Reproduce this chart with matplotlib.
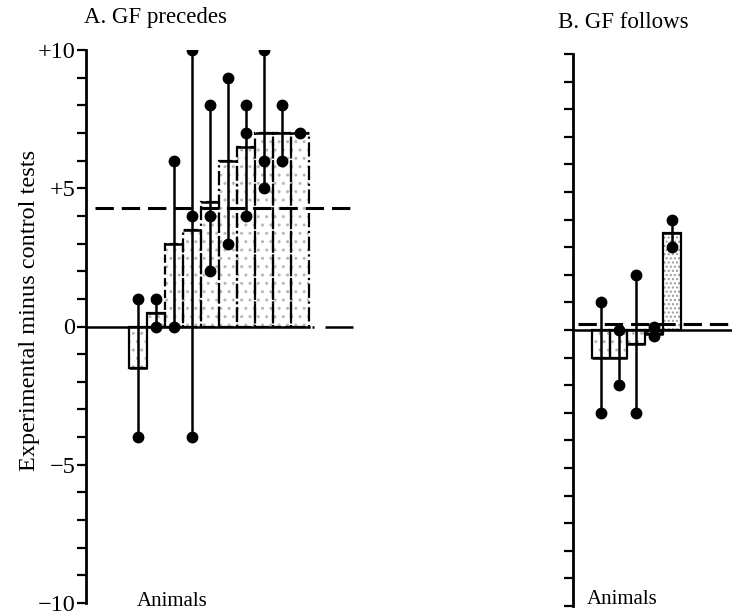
import matplotlib
matplotlib.use("Agg")
import matplotlib.pyplot as plt
import numpy as np

# ---- data ----
A_means = [-1.5, 0.5, 3.0, 3.5, 4.5, 6.0, 6.5, 7.0, 7.0, 7.0]
A_points = [[1, -4], [1, 0], [6, 0], [10, 4, -4], [8, 4, 2],
            [9, 3], [8, 7, 4], [10, 6, 5], [8, 6], [7]]
A_grand_mean = 4.3

B_means = [-1.0, -1.0, -0.5, -0.15, 3.5]
B_points = [[1, -3], [0, -2], [2, -3], [0.1, -0.2], [4, 3]]
B_grand_mean = 0.2

y_ticks = list(range(-10, 11))
y_label_ticks = [10, 5, 0, -5, -10]
y_label_text = ["+10", "+5", "0", "\u22125", "\u221210"]

title_A = "A. GF precedes"
title_B = "B. GF follows"
x_label = "Animals"
y_label = "Experimental minus control tests"

W, H = 732, 615
plt.rcParams['font.family'] = ['Liberation Serif', 'DejaVu Serif']
fig = plt.figure(figsize=(W / 100, H / 100), dpi=100)


def px_axes(x0, x1, ytop, ybot):
    return fig.add_axes([x0 / W, (H - ybot) / H, (x1 - x0) / W, (ybot - ytop) / H])


def style_axis(ax, labels):
    for s in ['top', 'right', 'bottom']:
        ax.spines[s].set_visible(False)
    ax.spines['left'].set_linewidth(2.0)
    ax.set_ylim(-10, 10)
    ax.set_yticks(y_ticks)
    if labels:
        ax.set_yticklabels([y_label_text[y_label_ticks.index(t)] if t in y_label_ticks else ""
                            for t in y_ticks], fontsize=17.5)
    else:
        ax.set_yticklabels([])
    ax.tick_params(axis='y', direction='out', length=6.5, width=1.6, pad=1)
    ax.set_xticks([])
    ax.patch.set_alpha(0)


def draw_bars(ax, x0, means, points, styles, hatch_col, dense=None, dark=None):
    n = len(means)
    xs = [x0 + i for i in range(n)]
    # stippled fill
    fill = ax.bar(xs, means, width=1, align='edge', color='white',
                  edgecolor=hatch_col, hatch='..', linewidth=0, zorder=1)
    if dense is not None:
        for i in dense:
            fill[i].set_hatch('....')
            fill[i].set_edgecolor('#9a9a9a')
    if dark is not None:
        for i in dark:
            fill[i].set_facecolor('#222222')
    # outlines with varying line styles
    outl = ax.bar(xs, means, width=1, align='edge', fill=False,
                  edgecolor='black', linewidth=1.6, zorder=2)
    for p, ls in zip(outl, styles):
        p.set_linestyle(ls)
    # solid tops
    ax.hlines(means, xs, [x + 1 for x in xs], color='black', lw=1.8, zorder=3)
    # individual tests
    for x, pts in zip(xs, points):
        c = x + 0.5
        ax.vlines(c, min(pts), max(pts), color='black', lw=1.8, zorder=4)
        ax.plot([c] * len(pts), pts, 'o', color='black', ms=7.5, zorder=5)
    return xs[-1] + 1


# ---- Panel A ----
unitA = 18.0
axA = px_axes(86, 360, 50, 603)
style_axis(axA, True)
axA.set_xlim(0, (360 - 86) / unitA)
startA = (129 - 86) / unitA
A_styles = ['-', '-', '--', '-.', '-.', '-.', '-.', '-.', '--', '-.']
endA = draw_bars(axA, startA, A_means, A_points, A_styles, '#b8b8b8')
axA.plot([0, endA], [0, 0], color='black', lw=1.8, zorder=3)
axA.plot([endA, (353 - 86) / unitA], [0, 0], color='black', lw=1.8,
         linestyle=(16.4, (0.8, 4.4, 11.2, 1.2)), zorder=3)
axA.plot([0.5, (355 - 86) / unitA], [A_grand_mean] * 2, color='black', lw=2.2,
         linestyle=(0, (6, 2.6)), zorder=6)

# ---- Panel B ----
unitB = 17.7
axB = px_axes(573, 732, 54, 606)
style_axis(axB, False)
axB.set_xlim(0, (732 - 573) / unitB)
startB = (592 - 573) / unitB
B_styles = ['-', '-', '-', '-', '-']
endB = draw_bars(axB, startB, B_means, B_points, B_styles, '#b8b8b8',
                 dense=[4], dark=[3])
axB.plot([0, (732 - 573) / unitB], [0, 0], color='black', lw=1.8, zorder=3)
axB.plot([0.3, (732 - 573) / unitB], [B_grand_mean] * 2, color='black', lw=2.2,
         linestyle=(0, (6, 2.6)), zorder=6)

# ---- texts ----
fig.text(84 / W, 1 - 17 / H, title_A, fontsize=16.5, ha='left', va='center')
fig.text(558 / W, 1 - 22 / H, title_B, fontsize=16.5, ha='left', va='center')
fig.text(172 / W, 1 - 601 / H, x_label, fontsize=15, ha='center', va='center')
fig.text(622 / W, 1 - 599 / H, x_label, fontsize=15, ha='center', va='center')
fig.text(30 / W, 1 - 310 / H, y_label, fontsize=17.5, rotation=90,
         ha='center', va='center')

fig.savefig("out.png", dpi=100)
